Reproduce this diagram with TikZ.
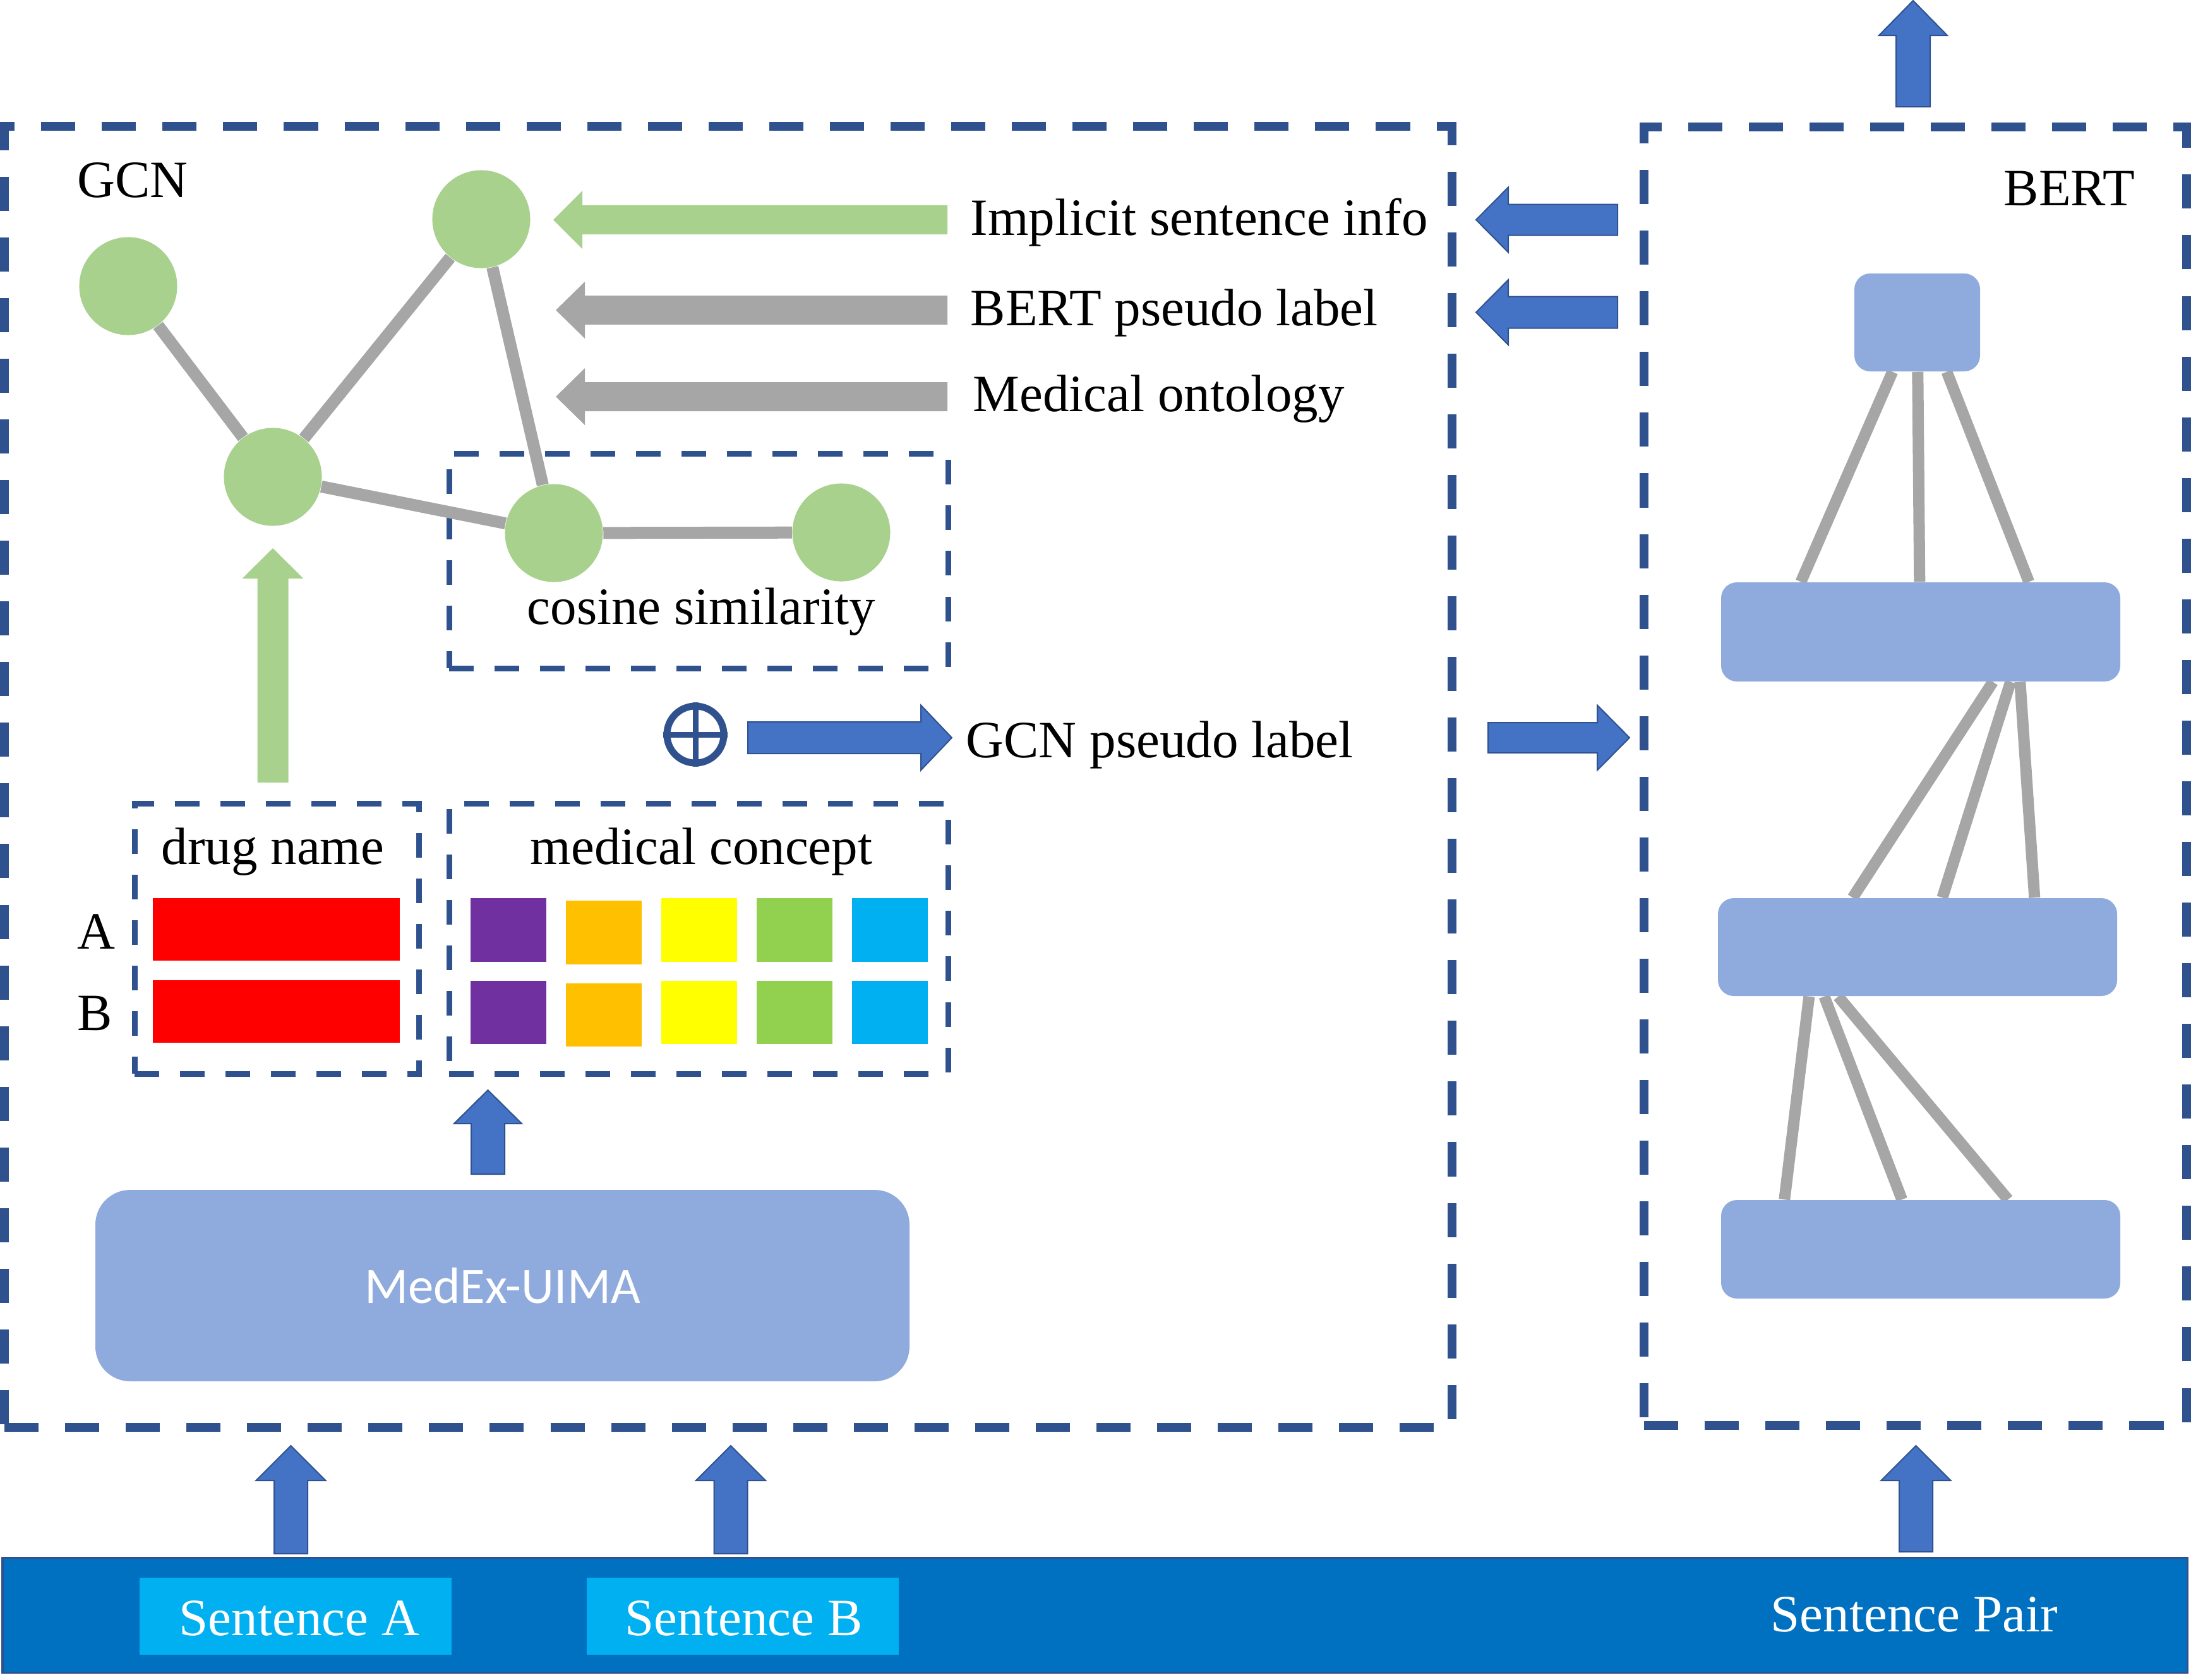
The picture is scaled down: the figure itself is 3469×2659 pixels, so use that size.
\documentclass[tikz,border=0pt]{standalone}
\usepackage{fontspec}
\setmainfont{Liberation Serif}
\newfontfamily\calfont{Carlito}
\usetikzlibrary{fit,calc,backgrounds}

\definecolor{dashblue}{RGB}{47,82,143}
\definecolor{arrblue}{RGB}{68,114,196}
\definecolor{arredge}{RGB}{47,82,143}
\definecolor{nodegreen}{RGB}{169,209,142}
\definecolor{edgegray}{RGB}{166,166,166}
\definecolor{layerblue}{RGB}{143,170,220}
\definecolor{bandblue}{RGB}{0,112,192}
\definecolor{sentblue}{RGB}{0,176,240}
\definecolor{cpurple}{RGB}{112,48,160}
\definecolor{corange}{RGB}{255,192,0}
\definecolor{cyellow}{RGB}{255,255,0}
\definecolor{cgreen}{RGB}{146,208,80}
\definecolor{ccyan}{RGB}{0,176,240}
\definecolor{cred}{RGB}{255,0,0}

% block arrow: #1 style, #2 tail point, #3 direction angle, #4 length, #5 shaft half width, #6 head half width, #7 head length
\newcommand{\barr}[7]{%
  \begin{scope}[shift={(#2)},rotate=#3]
    \path[#1] (0,#5) -- ({#4-#7},#5) -- ({#4-#7},#6) -- (#4,0) -- ({#4-#7},-#6) -- ({#4-#7},-#5) -- (0,-#5) -- cycle;
  \end{scope}}

\begin{document}
\begin{tikzpicture}[x=0.01cm,y=-0.01cm,
  txt/.style={anchor=base west, inner sep=0, font=\fontsize{23.6}{28}\selectfont},
  bigbox/.style={draw=dashblue, line width=0.14cm, dash pattern=on 0.54cm off 0.42cm, inner sep=0},
  smallbox/.style={draw=dashblue, line width=0.09cm, dash pattern=on 0.39cm off 0.33cm, inner sep=0},
  gnode/.style={circle, fill=nodegreen, minimum size=1.55cm, inner sep=0},
  gedge/.style={draw=edgegray, line width=0.19cm},
  bedge/.style={draw=edgegray, line width=0.18cm},
  layer/.style={fill=layerblue, rounded corners=0.25cm, inner sep=0},
  tile/.style={inner sep=0},
  barrow/.style={fill=arrblue, draw=arredge, line width=0.02cm},
  garrow/.style={fill=nodegreen},
  grarrow/.style={fill=edgegray}
]
\useasboundingbox (0,0) rectangle (3469,2659);

% ---------- big dashed frames ----------
\node[bigbox, fit={(7,200) (2299,2260)}] (gcnbox) {};
\node[bigbox, fit={(2603,201) (3462,2257)}] (bertbox) {};
\node[txt] (gcnlbl) at (122,312) {GCN};
\node[txt] (bertlbl) at (3172,325) {BERT};

% ---------- inner dashed boxes ----------
\node[smallbox, fit={(711,718) (1501,1058)}] (cosbox) {};
\node[smallbox, fit={(213,1272) (663,1700)}] (drugbox) {};
\node[smallbox, fit={(711,1272) (1501,1700)}] (medbox) {};

% ---------- graph ----------
\node[gnode] (n1) at (203,453) {};
\node[gnode] (n2) at (762,347) {};
\node[gnode] (n3) at (432,755) {};
\node[gnode] (n4) at (877,844) {};
\node[gnode] (n5) at (1332,843) {};
\draw[gedge] (n1) -- (n3);
\draw[gedge] (n3) -- (n2);
\draw[gedge] (n2) -- (n4);
\draw[gedge] (n3) -- (n4);
\draw[gedge] (n4) -- (n5);
\node[txt] (coslbl) at (834,988) {cosine similarity};

% ---------- horizontal arrows into graph ----------
\barr{garrow}{1500,348}{180}{624}{23}{46}{46}
\barr{grarrow}{1500,491}{180}{620}{23}{45}{46}
\barr{grarrow}{1500,628}{180}{620}{23}{45}{46}
\node[txt] (implbl) at (1536,372) {Implicit sentence info};
\node[txt] (bplbl) at (1536,515) {BERT pseudo label};
\node[txt] (ontlbl) at (1540,651) {Medical ontology};

% ---------- oplus and GCN pseudo label ----------
\node[circle, draw=dashblue, line width=0.11cm, minimum size=0.9cm, inner sep=0] (oplus) at (1101,1163) {};
\draw[dashblue, line width=0.09cm] (oplus.north) -- (oplus.south);
\draw[dashblue, line width=0.09cm] (oplus.west) -- (oplus.east);
\barr{barrow}{1184,1168}{0}{323}{25}{51.5}{49}
\node[txt] (gplbl) at (1529,1199) {GCN pseudo label};

% ---------- drug name / medical concept ----------
\barr{garrow}{432,1239}{90}{371}{24.5}{48.5}{48}
\node[txt] (druglbl) at (255,1368) {drug name};
\node[txt] (medlbl) at (839,1368) {medical concept};
\node[txt] (albl) at (122,1502) {A};
\node[txt] (blbl) at (122,1631) {B};
\node[tile, fill=cred, fit={(242,1422) (633,1521)}] (redA) {};
\node[tile, fill=cred, fit={(242,1552) (633,1651)}] (redB) {};
\node[tile, fill=cpurple, fit={(745,1422) (865,1523)}] (pA) {};
\node[tile, fill=corange, fit={(896,1426) (1016,1527)}] (oA) {};
\node[tile, fill=cyellow, fit={(1047,1422) (1167,1523)}] (yA) {};
\node[tile, fill=cgreen, fit={(1198,1422) (1318,1523)}] (gA) {};
\node[tile, fill=ccyan, fit={(1349,1422) (1469,1523)}] (cA) {};
\node[tile, fill=cpurple, fit={(745,1553) (865,1653)}] (pB) {};
\node[tile, fill=corange, fit={(896,1557) (1016,1657)}] (oB) {};
\node[tile, fill=cyellow, fit={(1047,1553) (1167,1653)}] (yB) {};
\node[tile, fill=cgreen, fit={(1198,1553) (1318,1653)}] (gB) {};
\node[tile, fill=ccyan, fit={(1349,1553) (1469,1653)}] (cB) {};

% ---------- MedEx-UIMA ----------
\node[layer, rounded corners=0.55cm, fit={(151,1884) (1440,2187)}] (medex) {};
\node[font=\calfont\fontsize{23}{28}\selectfont, text=white, inner sep=0] (medextxt) at (medex.center) {MedEx-UIMA};
\barr{barrow}{772.5,1859}{90}{133}{26.5}{53.5}{53}

% ---------- BERT stack ----------
\node[layer, fit={(2936,433) (3135,588)}] (btop) {};
\node[layer, fit={(2725,922) (3357,1079)}] (L1) {};
\node[layer, fit={(2720,1422) (3352,1577)}] (L2) {};
\node[layer, fit={(2725,1900) (3357,2056)}] (L3) {};
\begin{pgfonlayer}{background}
  \draw[bedge] ($(btop.south west)+(61,0)$) -- ($(L1.north west)+(127,0)$);
  \draw[bedge] ($(btop.south west)+(101,0)$) -- ($(L1.north west)+(315,0)$);
  \draw[bedge] ($(btop.south west)+(147,0)$) -- ($(L1.north west)+(488,0)$);
  \draw[bedge] ($(L1.south west)+(431,0)$) -- ($(L2.north west)+(214,0)$);
  \draw[bedge] ($(L1.south west)+(459,0)$) -- ($(L2.north west)+(356,0)$);
  \draw[bedge] ($(L1.south west)+(474,0)$) -- ($(L2.north west)+(502,0)$);
  \draw[bedge] ($(L2.south west)+(145,0)$) -- ($(L3.north west)+(101,0)$);
  \draw[bedge] ($(L2.south west)+(169,0)$) -- ($(L3.north west)+(287,0)$);
  \draw[bedge] ($(L2.south west)+(191,0)$) -- ($(L3.north west)+(455,0)$);
\end{pgfonlayer}

% ---------- arrows between the frames ----------
\barr{barrow}{2561,348}{180}{224}{24.5}{51.5}{51}
\barr{barrow}{2561,494.5}{180}{224}{25}{51.5}{51}
\barr{barrow}{2356,1168}{0}{224}{24}{51.5}{51}
\barr{barrow}{3029,169}{90}{168}{27}{54}{55}

% ---------- input band ----------
\node[fill=bandblue, draw=dashblue, line width=0.03cm, inner sep=0, fit={(4,2466) (3463,2648)}] (band) {};
\node[fill=sentblue, inner sep=0, fit={(221,2498) (715,2620)}] (sa) {};
\node[fill=sentblue, inner sep=0, fit={(929,2498) (1423,2620)}] (sb) {};
\node[txt, text=white] (salbl) at (283,2589) {Sentence A};
\node[txt, text=white] (sblbl) at (989,2589) {Sentence B};
\node[txt, text=white] (splbl) at (2803,2583) {Sentence Pair};
\barr{barrow}{460.5,2460}{90}{171}{26.5}{55}{55}
\barr{barrow}{1157,2460}{90}{171}{26.5}{55}{55}
\barr{barrow}{3033.5,2457}{90}{168}{26.5}{55}{55}
\end{tikzpicture}
\end{document}
